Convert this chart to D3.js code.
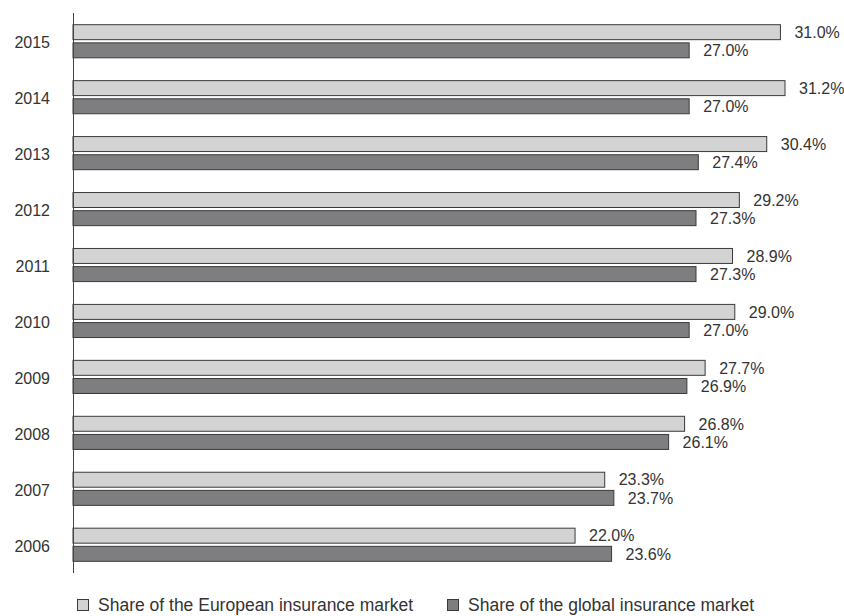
<!DOCTYPE html>
<html>
<head>
<meta charset="utf-8">
<title>Insurance market share</title>
<style>
body { margin: 0; background: #fff; }
svg text { font-family: 'Liberation Sans', Arial, sans-serif; fill: #333; }
.year { font-size: 16px; text-anchor: end; }
.val { font-size: 16px; }
.legend-label { font-size: 17.5px; }
</style>
</head>
<body>
<svg width="844" height="616"></svg>
<script src="https://d3js.org/d3.v7.min.js"></script>
<script>
// data
var years = ["2015", "2014", "2013", "2012", "2011", "2010", "2009", "2008", "2007", "2006"];
var europe = [31.0, 31.2, 30.4, 29.2, 28.9, 29.0, 27.7, 26.8, 23.3, 22.0];
var global = [27.0, 27.0, 27.4, 27.3, 27.3, 27.0, 26.9, 26.1, 23.7, 23.6];
var seriesNames = ["Share of the European insurance market", "Share of the global insurance market"];
var seriesKeys = ["europe", "global"];
var fills = { europe: "#d3d3d3", global: "#7e7e81" };

var svg = d3.select("svg");

var rows = years.map(function(y, i) {
  return { year: y, europe: europe[i], global: global[i] };
});

var x = d3.scaleLinear().domain([0, 31.2]).range([73, 785]);
var y = d3.scaleBand().domain(years).range([13, 573]).paddingInner(0.39).paddingOuter(0.2);
var ySub = d3.scaleBand().domain(seriesKeys).range([0, y.bandwidth()]).paddingInner(0.12);

// bars
var groups = svg.append("g").selectAll("g")
  .data(rows)
  .enter().append("g")
  .attr("transform", function(d) { return "translate(0," + y(d.year) + ")"; });

groups.selectAll("rect")
  .data(function(d) { return seriesKeys.map(function(k) { return { key: k, value: d[k] }; }); })
  .enter().append("rect")
  .attr("x", x(0))
  .attr("y", function(d) { return ySub(d.key) + 0.5; })
  .attr("width", function(d) { return x(d.value) - x(0); })
  .attr("height", ySub.bandwidth() - 1)
  .attr("fill", function(d) { return fills[d.key]; })
  .attr("stroke", "#3a3a3a")
  .attr("stroke-width", 1);

groups.selectAll("text.val")
  .data(function(d) { return seriesKeys.map(function(k) { return { key: k, value: d[k] }; }); })
  .enter().append("text")
  .attr("class", "val")
  .attr("x", function(d) { return x(d.value) + 14; })
  .attr("y", function(d) { return ySub(d.key) + ySub.bandwidth() / 2; })
  .attr("dy", "0.36em")
  .text(function(d) { return d.value.toFixed(1) + "%"; });

// year labels
svg.append("g").selectAll("text")
  .data(years)
  .enter().append("text")
  .attr("class", "year")
  .attr("x", 50)
  .attr("y", function(d) { return y(d) + y.bandwidth() / 2 + 1; })
  .attr("dy", "0.36em")
  .text(function(d) { return d; });

// axis line
svg.append("line")
  .attr("x1", 73.5).attr("x2", 73.5)
  .attr("y1", 13).attr("y2", 573)
  .attr("stroke", "#444")
  .attr("stroke-width", 1);

// legend
var legendX = [77, 447];
var legend = svg.append("g").selectAll("g")
  .data(seriesKeys)
  .enter().append("g")
  .attr("transform", function(d, i) { return "translate(" + legendX[i] + ",599)"; });

legend.append("rect")
  .attr("x", 0.5).attr("y", 0.5)
  .attr("width", 11).attr("height", 11)
  .attr("fill", function(d) { return fills[d]; })
  .attr("stroke", "#3a3a3a");

legend.append("text")
  .attr("class", "legend-label")
  .attr("x", 21)
  .attr("y", 6)
  .attr("dy", "0.36em")
  .text(function(d, i) { return seriesNames[i]; });
</script>
</body>
</html>
